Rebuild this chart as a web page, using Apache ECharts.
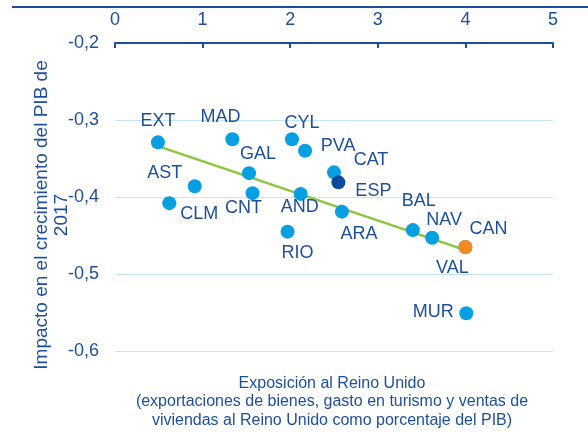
<!DOCTYPE html>
<html>
<head>
<meta charset="utf-8">
<script src="https://cdn.jsdelivr.net/npm/echarts@6/dist/echarts.min.js"></script>
<style>
  html, body { margin: 0; padding: 0; background: #fff; }
  #main { width: 588px; height: 441px; }
</style>
</head>
<body>
<div id="main"></div>
<script>
// datos de las regiones
var regions = ['EXT', 'MAD', 'CYL', 'PVA', 'GAL', 'CAT', 'ESP', 'AST', 'CNT', 'CLM', 'AND', 'ARA', 'RIO', 'BAL', 'NAV', 'VAL', 'CAN', 'MUR'];
var exposure = [0.49, 1.34, 2.02, 2.17, 1.53, 2.50, 2.55, 0.91, 1.57, 0.62, 2.12, 2.59, 1.97, 3.40, 3.62, 4.00, 4.00, 4.01];
var impact = [-0.329, -0.325, -0.325, -0.340, -0.369, -0.368, -0.381, -0.386, -0.395, -0.408, -0.396, -0.419, -0.445, -0.443, -0.453, -0.465, -0.465, -0.551];
var trendX = [0.49, 4.0];
var trendY = [-0.334, -0.469];
var xTicks = [0, 1, 2, 3, 4, 5];
var yTicks = [-0.6, -0.5, -0.4, -0.3, -0.2];

var darkBlue = '#1d4f9e';
var pointBlue = '#069fe2';
var pointColors = { ESP: '#0a4a9c', CAN: '#f6891f' };

// desplazamiento de cada etiqueta respecto al punto
var labelOffsets = {
  EXT: [0, -21], MAD: [-12, -22], CYL: [10, -16], PVA: [33, -5], GAL: [9, -19],
  CAT: [37, -12], ESP: [35, 9], AST: [-30, -13], CNT: [-9, 15], CLM: [30, 11],
  AND: [-1, 13], ARA: [17, 22], RIO: [10, 21], BAL: [6, -29], NAV: [12, -18],
  VAL: [-13, 21], CAN: [23, -18], MUR: [-33, -1]
};

var points = regions.map(function (name, i) {
  return {
    name: name,
    value: [exposure[i], impact[i]],
    itemStyle: { color: pointColors[name] || pointBlue, opacity: 1 },
    label: { offset: labelOffsets[name] }
  };
});

var fmt = function (v) { return v.toFixed(1).replace('.', ','); };

var myChart = echarts.init(document.getElementById('main'));
myChart.setOption({
  animation: false,
  textStyle: { fontFamily: 'Liberation Sans, Arial, sans-serif' },
  grid: { left: 115, right: 35, top: 43, bottom: 90 },
  graphic: [
    {
      type: 'line', shape: { x1: 12, y1: 7, x2: 588, y2: 7 },
      style: { stroke: darkBlue, lineWidth: 2 }
    },
    {
      // titulo del eje Y
      type: 'text', x: 52, y: 215, rotation: Math.PI / 2,
      style: {
        text: 'Impacto en el crecimiento del PIB de\n2017',
        fill: darkBlue, fontSize: 19, lineHeight: 20,
        fontFamily: 'Liberation Sans, Arial, sans-serif',
        align: 'center', verticalAlign: 'middle'
      }
    },
    {
      // titulo del eje X
      type: 'text', x: 332, y: 402,
      style: {
        text: 'Exposición al Reino Unido\n(exportaciones de bienes, gasto en turismo y ventas de\nviviendas al Reino Unido como porcentaje del PIB)',
        fill: darkBlue, fontSize: 16, lineHeight: 18.5,
        fontFamily: 'Liberation Sans, Arial, sans-serif',
        align: 'center', verticalAlign: 'middle'
      }
    }
  ],
  xAxis: {
    type: 'value', position: 'top', min: xTicks[0], max: xTicks[xTicks.length - 1], interval: 1,
    axisLine: { show: true, lineStyle: { color: darkBlue, width: 2 } },
    axisTick: { show: true, inside: true, length: 5, lineStyle: { color: darkBlue, width: 2 } },
    axisLabel: { color: darkBlue, fontSize: 18, margin: 14 },
    splitLine: { show: false }
  },
  yAxis: {
    type: 'value', min: yTicks[0], max: yTicks[yTicks.length - 1], interval: 0.1,
    axisLine: { show: false },
    axisTick: { show: false },
    axisLabel: { color: darkBlue, fontSize: 18, margin: 16, formatter: fmt },
    splitLine: { lineStyle: { color: '#c4e6f6', width: 1 } }
  },
  series: [
    {
      type: 'line',
      data: trendX.map(function (x, i) { return [x, trendY[i]]; }),
      symbol: 'none',
      lineStyle: { color: '#8cc63e', width: 2.5 },
      z: 2
    },
    {
      type: 'scatter',
      data: points,
      symbolSize: 14,
      z: 3,
      label: {
        show: true, position: 'inside',
        formatter: '{b}', color: darkBlue, fontSize: 18,
        align: 'center', verticalAlign: 'middle'
      }
    }
  ]
});
</script>
</body>
</html>
